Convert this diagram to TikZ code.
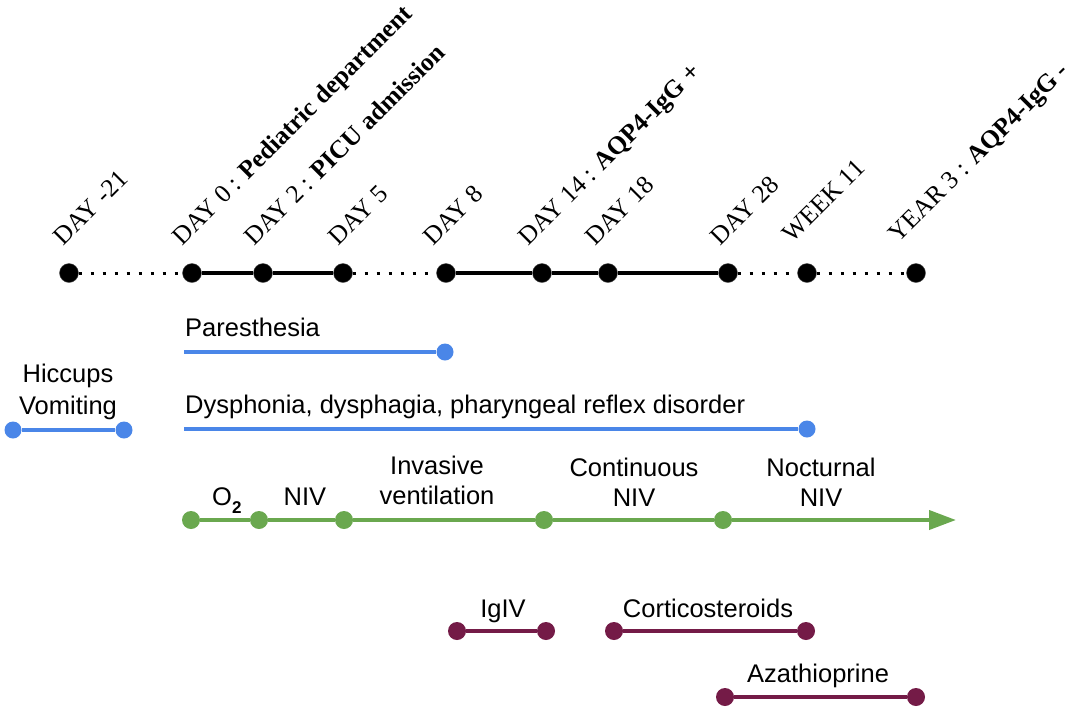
\documentclass[tikz,border=0pt]{standalone}
\usepackage{fontspec}
\setmainfont{Liberation Sans}
\newfontfamily\dayfont{Liberation Serif}
\usetikzlibrary{arrows.meta}
\definecolor{sympblue}{HTML}{4A86E8}
\definecolor{ventgreen}{HTML}{6AA84F}
\definecolor{drugred}{HTML}{741B47}
\tikzstyle{day}=[fill=black, draw=black!70, circle, inner sep=0pt, minimum size=19pt]
\tikzstyle{daytext}=[rotate=45, anchor=base west, inner sep=0pt, font=\dayfont\fontsize{25.5}{30}\selectfont]
\tikzstyle{txt}=[inner sep=0pt, font=\fontsize{25.5}{30}\selectfont, align=center]
\tikzstyle{sym}=[fill=sympblue, circle, inner sep=0pt, minimum size=17pt]
\tikzstyle{vent}=[fill=ventgreen, circle, inner sep=0pt, minimum size=18pt]
\tikzstyle{drug}=[fill=drugred, circle, inner sep=0pt, minimum size=18pt]
\tikzstyle{symline}=[draw=sympblue, line width=4pt]
\tikzstyle{ventline}=[draw=ventgreen, line width=4pt]
\tikzstyle{drugline}=[draw=drugred, line width=4pt]

\begin{document}
\begin{tikzpicture}[x=1pt, y=-1pt]
    \useasboundingbox (0,0) rectangle (1084,710);

    % Linea de tiempo
    \foreach \x [count=\i] in {69,192,263,343,446,542,608,728,807,916}{
        \node[day] (d\i) at (\x,273) {};
    }
    \foreach \a/\b in {2/3,3/4,5/6,6/7,7/8}
        \draw[line width=3.5pt] (d\a) -- (d\b);
    \foreach \a/\b in {1/2,4/5,8/9,9/10}
        \draw[line width=3pt, dash pattern=on 3pt off 9pt] (d\a) -- (d\b);

    % Fechas
    \foreach \x/\y/\t [count=\i] in {63/247/{DAY -21},
            182/247/{DAY 0 : \textbf{Pediatric department}},
            254/247/{DAY 2 : \textbf{PICU admission}},
            338/247/{DAY 5}, 433/247/{DAY 8},
            528/247/{DAY 14 : \textbf{AQP4-IgG +}},
            595/247/{DAY 18}, 720/247/{DAY 28}, 792/244/{WEEK 11},
            898/244/{YEAR 3 : \textbf{AQP4-IgG -}}}
        \node[daytext] (l\i) at (\x,\y) {\t};

    % Sintomas
    \node[txt, anchor=south, font=\fontsize{25.5}{32}\selectfont] (hv) at (68,420) {Hiccups\\Vomiting};
    \node[sym] (h1) at (13,430) {};
    \node[sym] (h2) at (124,430) {};
    \draw[symline] (h1) -- (h2);

    \node[txt, anchor=base west] (par) at (185,336) {Paresthesia};
    \coordinate (p0) at (184,352);
    \node[sym] (p1) at (445,352) {};
    \draw[symline] (p0) -- (p1);

    \node[txt, anchor=base west] (dys) at (185,413) {Dysphonia, dysphagia, pharyngeal reflex disorder};
    \coordinate (y0) at (184,429);
    \node[sym] (y1) at (807,429) {};
    \draw[symline] (y0) -- (y1);

    % Ventilacion
    \foreach \x [count=\i] in {191,259,344,544,723}{
        \node[vent] (g\i) at (\x,520) {};
    }
    \coordinate (gend) at (956,520);
    \draw[ventline] (g1) -- (g2) -- (g3) -- (g4) -- (g5);
    \draw[ventline, -{Triangle[length=27pt,width=19pt]}] (g5) -- (gend);

    \node[txt, anchor=base west] (oxy) at (212,505) {O\raisebox{-8pt}{\fontsize{17}{17}\selectfont\bfseries 2}};
    \node[txt, anchor=base] (niv) at (305,505) {NIV};
    \node[txt, anchor=south] (inv) at (437,505) {Invasive\\ventilation};
    \node[txt, anchor=south] (cniv) at (634,507) {Continuous\\NIV};
    \node[txt, anchor=south] (nniv) at (821,507) {Nocturnal\\NIV};

    % Tratamientos
    \node[drug] (i1) at (457,631) {};
    \node[drug] (i2) at (546,631) {};
    \draw[drugline] (i1) -- (i2);
    \node[txt, anchor=base] (igiv) at (503,617) {IgIV};

    \node[drug] (c1) at (614,631) {};
    \node[drug] (c2) at (806,631) {};
    \draw[drugline] (c1) -- (c2);
    \node[txt, anchor=base] (cort) at (708,617) {Corticosteroids};

    \node[drug] (a1) at (725,697) {};
    \node[drug] (a2) at (916,697) {};
    \draw[drugline] (a1) -- (a2);
    \node[txt, anchor=base west] (aza) at (747,682) {Azathioprine};
\end{tikzpicture}
\end{document}
